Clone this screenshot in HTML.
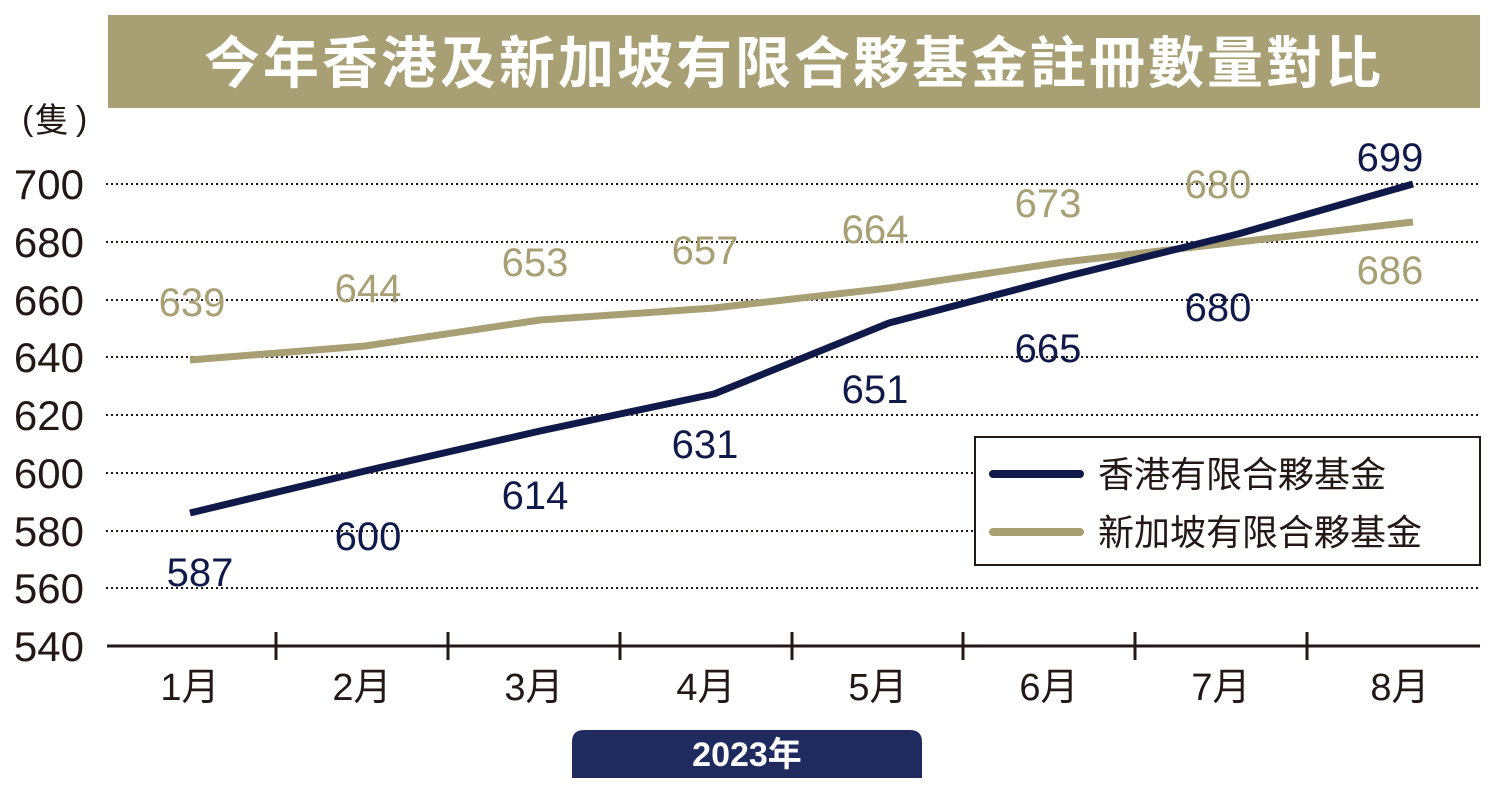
<!DOCTYPE html>
<html><head><meta charset="utf-8"><style>
html,body{margin:0;padding:0;background:#fff;width:1500px;height:801px;overflow:hidden}
svg text{font-family:"Liberation Sans","Noto Sans CJK TC",sans-serif}
</style></head><body>
<svg width="1500" height="801" viewBox="0 0 1500 801">
<rect x="108" y="15" width="1372" height="93" fill="#a89f74"/>
<text x="794" y="83" text-anchor="middle" font-size="56" letter-spacing="3" font-weight="bold" fill="#fff">今年香港及新加坡有限合夥基金註冊數量對比</text>
<text x="22" y="130" font-size="34" fill="#231815">(</text>
<text x="35" y="132" font-size="34" fill="#231815">隻</text>
<text x="76" y="130" font-size="34" fill="#231815">)</text>
<g font-size="42" fill="#231815" text-anchor="end">
<text x="84" y="199">700</text><text x="84" y="257">680</text><text x="84" y="315">660</text>
<text x="84" y="372">640</text><text x="84" y="430">620</text><text x="84" y="488">600</text>
<text x="84" y="546">580</text><text x="84" y="603">560</text><text x="84" y="661">540</text>
</g>
<g stroke="#231815" stroke-width="2" stroke-dasharray="2 3">
<line x1="106" y1="184" x2="1480" y2="184"/><line x1="106" y1="242" x2="1480" y2="242"/>
<line x1="106" y1="300" x2="1480" y2="300"/><line x1="106" y1="357" x2="1480" y2="357"/>
<line x1="106" y1="415" x2="1480" y2="415"/><line x1="106" y1="473" x2="1480" y2="473"/>
<line x1="106" y1="531" x2="1480" y2="531"/><line x1="106" y1="588" x2="1480" y2="588"/>
</g>
<g stroke="#231815" stroke-width="3">
<line x1="107" y1="646" x2="1480" y2="646"/>
<line x1="276" y1="632" x2="276" y2="660"/><line x1="448" y1="632" x2="448" y2="660"/>
<line x1="620" y1="632" x2="620" y2="660"/><line x1="792" y1="632" x2="792" y2="660"/>
<line x1="963" y1="632" x2="963" y2="660"/><line x1="1135" y1="632" x2="1135" y2="660"/>
<line x1="1307" y1="632" x2="1307" y2="660"/>
</g>
<g font-size="38" fill="#231815" text-anchor="middle">
<text x="190" y="700">1月</text><text x="362" y="700">2月</text><text x="534" y="700">3月</text>
<text x="706" y="700">4月</text><text x="878" y="700">5月</text><text x="1049" y="700">6月</text>
<text x="1221" y="700">7月</text><text x="1400" y="700">8月</text>
</g>
<polyline fill="none" stroke="#a89f74" stroke-width="7" stroke-linejoin="round" points="190,360 365,346 540,320 714,308 889,288 1064,262 1238,242 1413,222"/>
<polyline fill="none" stroke="#0f1a4a" stroke-width="7" stroke-linejoin="round" points="190,513 365,471 540,431 714,394 889,323 1064,277 1238,234 1413,184"/>
<g font-size="40" fill="#a89f74" text-anchor="middle">
<text x="192" y="316">639</text><text x="368" y="302">644</text><text x="535" y="276">653</text>
<text x="705" y="264">657</text><text x="875" y="243">664</text><text x="1048" y="217">673</text>
<text x="1218" y="198">680</text><text x="1390" y="284">686</text>
</g>
<g font-size="40" fill="#0f1a4a" text-anchor="middle">
<text x="200" y="586">587</text><text x="368" y="550">600</text><text x="535" y="509">614</text>
<text x="705" y="458">631</text><text x="875" y="403">651</text><text x="1048" y="362">665</text>
<text x="1218" y="321">680</text><text x="1390" y="171">699</text>
</g>
<rect x="975" y="437" width="505" height="128" fill="#fff" stroke="#231815" stroke-width="2"/>
<line x1="993" y1="474" x2="1080" y2="474" stroke="#0f1a4a" stroke-width="8" stroke-linecap="round"/>
<line x1="993" y1="532" x2="1080" y2="532" stroke="#a89f74" stroke-width="8" stroke-linecap="round"/>
<text x="1098" y="487" font-size="36" fill="#231815">香港有限合夥基金</text>
<text x="1098" y="545" font-size="36" fill="#231815">新加坡有限合夥基金</text>
<path d="M572,778 V742 Q572,730 584,730 H910 Q922,730 922,742 V778 Z" fill="#1f2a5e"/>
<text x="747" y="766" text-anchor="middle" font-size="34" font-weight="bold" fill="#fff">2023年</text>
</svg>
</body></html>
